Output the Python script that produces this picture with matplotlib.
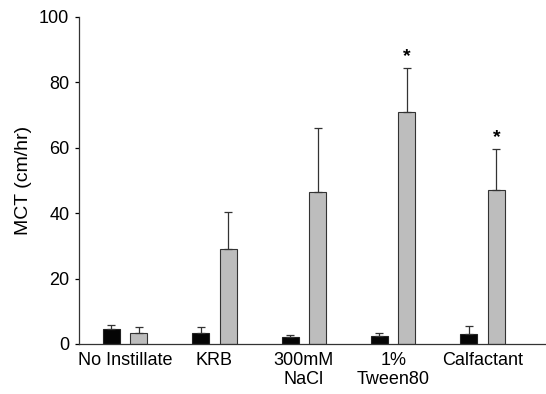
import matplotlib
matplotlib.use("Agg")
import matplotlib.pyplot as plt
import numpy as np

plt.rcParams.update({
    "font.family": ["Liberation Sans", "DejaVu Sans"], "font.size": 13,
})

categories = ["No Instillate", "KRB", "300mM\nNaCl", "1%\nTween80", "Calfactant"]
black_mean = [4.5, 3.2, 2.0, 2.5, 3.0]
black_err = [1.4, 1.9, 0.8, 1.0, 2.4]
grey_mean = [3.4, 29.1, 46.6, 70.8, 47.1]
grey_err = [1.7, 11.4, 19.3, 13.6, 12.5]
significant = [False, False, False, True, True]

x = np.arange(len(categories))
width = 0.19
off = 0.154

fig = plt.figure(figsize=(5.46, 3.94), dpi=100)
ax = fig.add_axes([0.1447, 0.127, 0.8553, 0.83])

ax.bar(x - off, black_mean, width, color="#050505", edgecolor="#222222", linewidth=0.8,
       yerr=[np.zeros(len(x)), black_err], capsize=3,
       error_kw=dict(elinewidth=0.9, capthick=0.9, ecolor="#333333"))
ax.bar(x + off, grey_mean, width, color="#bdbdbd", edgecolor="#333333", linewidth=0.8,
       yerr=[np.zeros(len(x)), grey_err], capsize=3,
       error_kw=dict(elinewidth=0.9, capthick=0.9, ecolor="#333333"))

for i, sig in enumerate(significant):
    if sig:
        ax.text(x[i] + off, grey_mean[i] + grey_err[i] + 0.8, "*", ha="center",
                va="bottom", fontsize=14, fontweight="bold")

ax.set_xlim(-0.515, 4.71)
ax.set_ylim(0, 100)
ax.set_yticks([0, 20, 40, 60, 80, 100])
ax.set_xticks(x)
ax.set_xticklabels(categories, linespacing=1.15)
ax.tick_params(axis="x", length=0, pad=6)
ax.tick_params(axis="y", length=3, width=0.9, pad=4)
ax.set_ylabel("MCT (cm/hr)", fontsize=14, labelpad=5)
for s in ["top", "right"]:
    ax.spines[s].set_visible(False)
for s in ["left", "bottom"]:
    ax.spines[s].set_linewidth(0.9)
    ax.spines[s].set_color("#333333")

fig.savefig("out.png", dpi=100)
